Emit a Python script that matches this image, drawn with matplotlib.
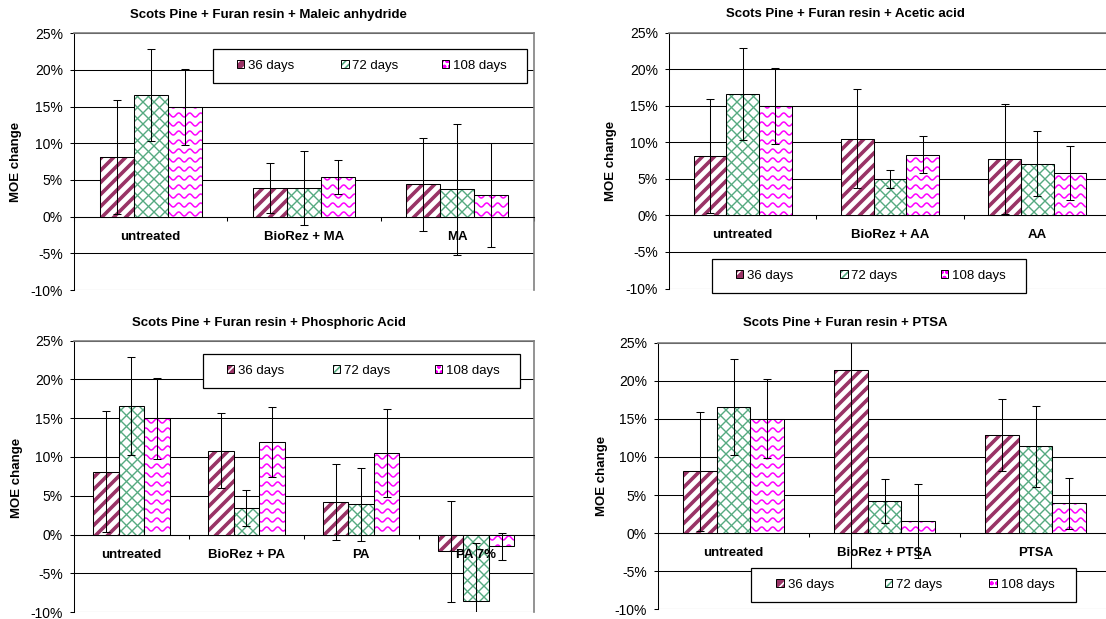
import numpy as np
import matplotlib
matplotlib.use("Agg")
import matplotlib.pyplot as plt
from matplotlib.collections import LineCollection
from matplotlib.legend import Legend
from matplotlib.patches import Patch, Rectangle
from matplotlib.transforms import IdentityTransform
from matplotlib.legend_handler import HandlerTuple

plt.rcParams["font.family"] = ["Liberation Sans", "DejaVu Sans"]
plt.rcParams["hatch.linewidth"] = 1.2

W, H, DPI = 1106, 619, 100

SERIES = ["36 days", "72 days", "108 days"]
YTICKS = [-10, -5, 0, 5, 10, 15, 20, 25]
YTICK_LABELS = ["-10%", "-5%", "0%", "5%", "10%", "15%", "20%", "25%"]

# MOE change (%) per treatment, mean and +/- error bar
ma_cats = ["untreated", "BioRez + MA", "MA"]
ma_36 = [8.1, 3.9, 4.4]
ma_36_err = [7.8, 3.4, 6.3]
ma_72 = [16.6, 3.9, 3.75]
ma_72_err = [6.3, 5.1, 8.95]
ma_108 = [15.0, 5.4, 2.9]
ma_108_err = [5.2, 2.3, 7.1]

aa_cats = ["untreated", "BioRez + AA", "AA"]
aa_36 = [8.1, 10.5, 7.7]
aa_36_err = [7.8, 6.8, 7.55]
aa_72 = [16.6, 5.0, 7.1]
aa_72_err = [6.3, 1.2, 4.5]
aa_108 = [15.0, 8.3, 5.8]
aa_108_err = [5.2, 2.5, 3.75]

pa_cats = ["untreated", "BioRez + PA", "PA", "PA 7%"]
pa_36 = [8.1, 10.8, 4.2, -2.15]
pa_36_err = [7.8, 4.8, 4.95, 6.5]
pa_72 = [16.6, 3.4, 3.9, -8.5]
pa_72_err = [6.3, 2.35, 4.7, 7.4]
pa_108 = [15.0, 11.9, 10.5, -1.5]
pa_108_err = [5.2, 4.5, 5.7, 1.75]

ptsa_cats = ["untreated", "BioRez + PTSA", "PTSA"]
ptsa_36 = [8.1, 21.4, 12.9]
ptsa_36_err = [7.8, 26.0, 4.7]
ptsa_72 = [16.6, 4.2, 11.4]
ptsa_72_err = [6.3, 2.9, 5.3]
ptsa_108 = [15.0, 1.6, 3.9]
ptsa_108_err = [5.2, 4.9, 3.35]

COLORS = ["#993366", "#55aa80", "#ff00ff"]
KINDS = ["stripe", "cross", "wave"]
BAR_W = 1 / 4.5


def px_axes(fig, left, right, top, bottom):
    return fig.add_axes([left / W, 1 - bottom / H, (right - left) / W, (bottom - top) / H])


def add_pattern(ax, bar, kind, color):
    (x0, y0), (x1, y1) = ax.transData.transform(
        [(bar.get_x(), bar.get_y()), (bar.get_x() + bar.get_width(), bar.get_y() + bar.get_height())])
    x0, x1 = sorted((x0, x1))
    y0, y1 = sorted((y0, y1))
    segs = []
    if kind == "stripe":
        step, lw = 12, 2.6
        for c in np.arange(np.floor((y0 - x1) / step) * step, y1 - x0 + step, step):
            segs.append([(x0 - 3, x0 - 3 + c), (x1 + 3, x1 + 3 + c)])
    elif kind == "cross":
        step, lw = 11, 1.0
        for c in np.arange(np.floor((y0 - x1) / step) * step, y1 - x0 + step, step):
            segs.append([(x0 - 3, x0 - 3 + c), (x1 + 3, x1 + 3 + c)])
        for c in np.arange(np.floor((x0 + y0) / step) * step, x1 + y1 + step, step):
            segs.append([(x0 - 3, c - x0 + 3), (x1 + 3, c - x1 - 3)])
    else:
        step, lw = 9, 1.1
        t = np.linspace(x0 - 3, x1 + 3, 80)
        for yy in np.arange(np.floor(y0 / step) * step, y1 + step, step):
            segs.append(np.column_stack([t, yy + 2.0 * np.sin(2 * np.pi * t / 11)]))
    lc = LineCollection(segs, transform=IdentityTransform(), colors=color,
                        linewidths=lw, zorder=3.2)
    ax.add_collection(lc, autolim=False)
    lc.set_clip_path(bar)


def legend_handles():
    # small swatches: solid base plus hatch in the contrasting colour, black outline
    base = [Patch(facecolor=COLORS[0], edgecolor="white", hatch="///", lw=0),
            Patch(facecolor="white", edgecolor=COLORS[1], hatch="/////", lw=0),
            Patch(facecolor="white", edgecolor=COLORS[2], hatch="ooo", lw=0)]
    return [(b, Patch(fill=False, edgecolor="black", lw=0.7)) for b in base]


def draw_legend(fig, ax, box):
    left, right, top, bottom = box
    frame = Rectangle((left / W, 1 - bottom / H), (right - left) / W, (bottom - top) / H,
                      transform=fig.transFigure, facecolor="white", edgecolor="black",
                      lw=0.9, zorder=8, clip_on=False)
    ax.add_artist(frame)
    cy = 1 - (top + bottom) / 2 / H
    for k, (name, handle) in enumerate(zip(SERIES, legend_handles())):
        cx = (left + (right - left) * (2 * k + 1) / 6) / W
        leg = Legend(ax, [handle], [name], loc="center", bbox_to_anchor=(cx, cy),
                     bbox_transform=fig.transFigure, frameon=False, fontsize=9.5,
                     handlelength=0.55, handleheight=0.55, handletextpad=0.3,
                     borderpad=0, borderaxespad=0,
                     handler_map={tuple: HandlerTuple(ndivide=1, pad=0)})
        leg.set_zorder(9)
        ax.add_artist(leg)


def draw_panel(fig, box, title, title_xy, ylabel_xy, cats, vals, errs, legend_box):
    ax = px_axes(fig, *box)
    n = len(cats)
    x = np.arange(n)
    ax.set_xlim(-0.5, n - 0.5)
    ax.set_ylim(-10, 25)
    ax.set_axisbelow(True)
    ax.yaxis.grid(True, color="black", lw=0.75)

    ax.set_xticks(np.arange(n + 1) - 0.5)
    ax.set_xticklabels([])
    ax.tick_params(axis="x", direction="out", length=3, width=0.75)
    ax.set_yticks(YTICKS)
    ax.set_yticklabels(YTICK_LABELS, fontsize=10)
    ax.tick_params(axis="y", direction="out", length=3, width=0.75, pad=5)
    ax.spines["bottom"].set_position(("data", 0))
    ax.spines["bottom"].set_linewidth(0.75)
    ax.spines["left"].set_linewidth(0.75)
    for s in ("top", "right"):
        ax.spines[s].set_color("#808080")
        ax.spines[s].set_linewidth(1.2)

    for k in range(3):
        xs = x + (k - 1) * BAR_W
        bars = ax.bar(xs, vals[k], BAR_W, color="white", lw=0, zorder=3)
        for b in bars:
            add_pattern(ax, b, KINDS[k], COLORS[k])
        ax.bar(xs, vals[k], BAR_W, fill=False, edgecolor="black", lw=0.75, zorder=3.4)
        ax.errorbar(xs, vals[k], yerr=errs[k], fmt="none", ecolor="black",
                    elinewidth=0.75, capsize=3, capthick=0.75, zorder=6)

    for i, cat in enumerate(cats):
        ax.annotate(cat, xy=(i, 0), xytext=(0, -14.4), textcoords="offset points",
                    ha="center", va="center", fontsize=9.5, fontweight="bold", zorder=5)

    fig.text(title_xy[0] / W, 1 - title_xy[1] / H, title, ha="center", va="center",
             fontsize=9.5, fontweight="bold")
    fig.text(ylabel_xy[0] / W, 1 - ylabel_xy[1] / H, "MOE change", rotation=90,
             ha="center", va="center", fontsize=9.5, fontweight="bold")
    draw_legend(fig, ax, legend_box)


fig = plt.figure(figsize=(W / DPI, H / DPI), dpi=DPI)

draw_panel(fig, (74, 534, 33.3, 290), "Scots Pine + Furan resin + Maleic anhydride",
           (268, 15), (16, 162), ma_cats,
           [ma_36, ma_72, ma_108], [ma_36_err, ma_72_err, ma_108_err],
           (213, 527, 49, 83))
draw_panel(fig, (669, 1111, 32.7, 288.5), "Scots Pine + Furan resin + Acetic acid",
           (845, 14), (611, 161), aa_cats,
           [aa_36, aa_72, aa_108], [aa_36_err, aa_72_err, aa_108_err],
           (712, 1026, 259, 293))
draw_panel(fig, (74, 533.5, 340.5, 612.3), "Scots Pine + Furan resin + Phosphoric Acid",
           (269, 323), (17, 478), pa_cats,
           [pa_36, pa_72, pa_108], [pa_36_err, pa_72_err, pa_108_err],
           (203, 520, 354, 388))
draw_panel(fig, (658, 1111, 342.7, 609.3), "Scots Pine + Furan resin + PTSA",
           (845, 323), (602, 476), ptsa_cats,
           [ptsa_36, ptsa_72, ptsa_108], [ptsa_36_err, ptsa_72_err, ptsa_108_err],
           (751, 1076, 568, 602))

fig.savefig("out.png", dpi=DPI)
